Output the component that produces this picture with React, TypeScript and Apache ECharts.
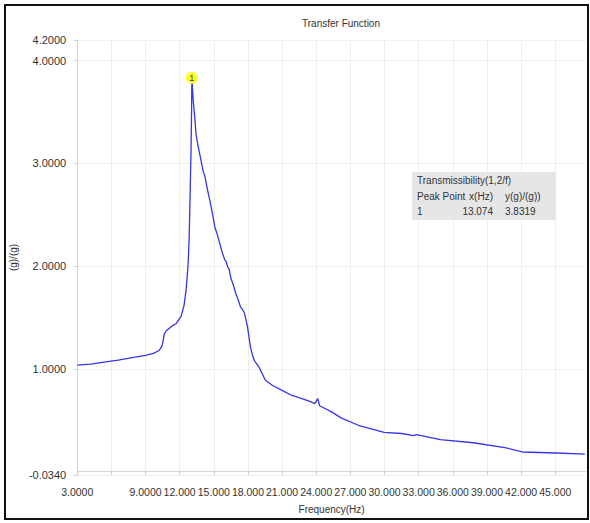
import React, { useEffect, useRef } from "react";
import * as echarts from "echarts";

// Frequency (Hz) and transmissibility y(g)/x(g)
const freqHz = [
  3.0, 4.2, 5.35, 6.6, 7.96, 9.0, 9.7, 10.22, 10.48, 10.65, 10.83, 11.26, 11.7, 12.13, 12.39, 12.57,
  12.74, 12.83, 12.91, 13.0, 13.05, 13.074, 13.2, 13.35, 13.43, 13.6, 13.87, 14.05, 14.22, 14.45,
  14.65, 14.9, 15.09, 15.3, 15.52, 15.75, 15.96, 16.1, 16.22, 16.35, 16.48, 16.7, 16.91, 17.15,
  17.35, 17.5, 17.7, 17.96, 18.22, 18.4, 18.57, 19.0, 19.52, 20.13, 21.0, 21.87, 22.74, 23.5,
  23.87, 24.13, 24.3, 25.35, 26.22, 27.7, 29.96, 31.5, 32.57, 32.8, 34.9, 37.8, 40.7, 42.1, 45.1, 47.6,
];
const transmissibility = [
  1.035, 1.045, 1.065, 1.085, 1.11, 1.13, 1.15, 1.18, 1.23, 1.34, 1.37, 1.41, 1.44, 1.51, 1.62, 1.77,
  2.01, 2.25, 2.64, 3.13, 3.52, 3.8319, 3.6, 3.42, 3.29, 3.18, 3.03, 2.93, 2.87, 2.74,
  2.64, 2.5, 2.38, 2.31, 2.22, 2.13, 2.06, 2.04, 1.99, 1.97, 1.89, 1.82, 1.74, 1.67,
  1.6, 1.58, 1.54, 1.41, 1.21, 1.13, 1.08, 1.01, 0.89, 0.84, 0.79, 0.74, 0.71, 0.68,
  0.66, 0.71, 0.64, 0.58, 0.52, 0.45, 0.38, 0.37, 0.35, 0.36, 0.31, 0.28, 0.23, 0.19, 0.18, 0.17,
];

const xTickValues = [3, 6, 9, 12, 15, 18, 21, 24, 27, 30, 33, 36, 39, 42, 45];
const xLabelValues = [3, 9, 12, 15, 18, 21, 24, 27, 30, 33, 36, 39, 42, 45];
const xTickLabels = [
  "3.0000", "9.0000", "12.000", "15.000", "18.000", "21.000", "24.000",
  "27.000", "30.000", "33.000", "36.000", "39.000", "42.000", "45.000",
];
const yTickValues = [-0.034, 1, 2, 3, 4, 4.2];
const yTickLabels = ["-0.0340", "1.0000", "2.0000", "3.0000", "4.0000", "4.2000"];

const peakIds = ["1"];
const peakFreq = [13.074];
const peakValue = [3.8319];

const FONT = "'Liberation Sans', Arial, sans-serif";

export default function App() {
  const ref = useRef<HTMLDivElement>(null);

  useEffect(() => {
    if (!ref.current) return;
    const chart = echarts.init(ref.current, null, { renderer: "svg" });
    const data = freqHz.map((f, i) => [f, transmissibility[i]]);

    chart.setOption({
      animation: false,
      backgroundColor: "#ffffff",
      textStyle: { fontFamily: FONT },
      title: {
        text: "Transfer Function",
        left: 297,
        top: 13,
        textStyle: { fontSize: 10, fontWeight: "normal", color: "#333", fontFamily: FONT },
      },
      grid: { left: 73, right: 4, top: 40, bottom: 48 },
      xAxis: {
        type: "value",
        min: 3,
        max: 47.7,
        name: "Frequency(Hz)",
        nameLocation: "middle",
        nameGap: 29,
        nameTextStyle: { fontSize: 10, color: "#333", fontFamily: FONT },
        axisLine: { show: true, lineStyle: { color: "#d6d6d6" } },
        axisTick: { show: true, length: 3, customValues: xTickValues, lineStyle: { color: "#cccccc" } },
        axisLabel: {
          customValues: xLabelValues,
          fontSize: 10.5,
          color: "#333",
          margin: 11,
          fontFamily: FONT,
          formatter: (v: number) => {
            const i = xLabelValues.findIndex((t) => Math.abs(t - v) < 1e-6);
            return i >= 0 ? xTickLabels[i] : "";
          },
        },
        splitLine: { show: true, lineStyle: { color: "#eeeeee", width: 1 } },
      },
      yAxis: {
        type: "value",
        min: -0.034,
        max: 4.2,
        name: "(g)/(g)",
        nameLocation: "middle",
        nameGap: 51,
        nameTextStyle: { fontSize: 10, color: "#333", fontFamily: FONT },
        axisLine: { show: true, lineStyle: { color: "#d6d6d6" } },
        axisTick: { show: true, length: 3, customValues: yTickValues, lineStyle: { color: "#cccccc" } },
        axisLabel: {
          customValues: yTickValues,
          fontSize: 11,
          color: "#333",
          margin: 11,
          fontFamily: FONT,
          formatter: (v: number) => {
            const i = yTickValues.findIndex((t) => Math.abs(t - v) < 1e-6);
            return i >= 0 ? yTickLabels[i] : "";
          },
        },
        splitLine: { show: true, lineStyle: { color: "#eeeeee", width: 1 } },
      },
      series: [
        {
          type: "line",
          data,
          showSymbol: false,
          symbol: "none",
          lineStyle: { color: "#3535ea", width: 1.3 },
          z: 3,
          markPoint: {
            symbol: "circle",
            symbolSize: 12,
            itemStyle: { color: "#ffff2e" },
            label: { show: true, position: "inside", color: "#333", fontSize: 9, fontFamily: FONT },
            data: peakIds.map((id, i) => ({ coord: [peakFreq[i], peakValue[i]], value: id })),
          },
        },
      ],
      graphic: [
        {
          type: "rect",
          shape: { x: 5, y: 5, width: 583, height: 514 },
          style: { fill: "rgba(0,0,0,0)", stroke: "#111", lineWidth: 2 },
          silent: true,
        },
        {
          type: "rect",
          shape: { x: 412, y: 172, width: 144, height: 48 },
          style: { fill: "#e6e6e6" },
          silent: true,
          z: 10,
        },
        {
          type: "text",
          x: 417,
          y: 175,
          z: 11,
          style: { text: "Transmissibility(1,2/f)", fontSize: 10, fill: "#333", fontFamily: FONT },
        },
        {
          type: "text",
          x: 417,
          y: 191,
          z: 11,
          style: { text: "Peak Point", fontSize: 10, fill: "#333", fontFamily: FONT },
        },
        {
          type: "text",
          x: 493,
          y: 191,
          z: 11,
          style: { text: "x(Hz)", fontSize: 10, fill: "#333", fontFamily: FONT, align: "right" },
        },
        {
          type: "text",
          x: 505,
          y: 191,
          z: 11,
          style: { text: "y(g)/(g))", fontSize: 10, fill: "#333", fontFamily: FONT },
        },
        {
          type: "text",
          x: 417,
          y: 206,
          z: 11,
          style: { text: peakIds[0], fontSize: 10, fill: "#333", fontFamily: FONT },
        },
        {
          type: "text",
          x: 493,
          y: 206,
          z: 11,
          style: { text: peakFreq[0].toFixed(3), fontSize: 10, fill: "#333", fontFamily: FONT, align: "right" },
        },
        {
          type: "text",
          x: 505,
          y: 206,
          z: 11,
          style: { text: peakValue[0].toFixed(4), fontSize: 10, fill: "#333", fontFamily: FONT },
        },
      ],
    });

    return () => chart.dispose();
  }, []);

  return (
    <div
      ref={ref}
      style={{ position: "absolute", left: 0, top: 0, width: 590, height: 523, background: "#fff" }}
    />
  );
}
